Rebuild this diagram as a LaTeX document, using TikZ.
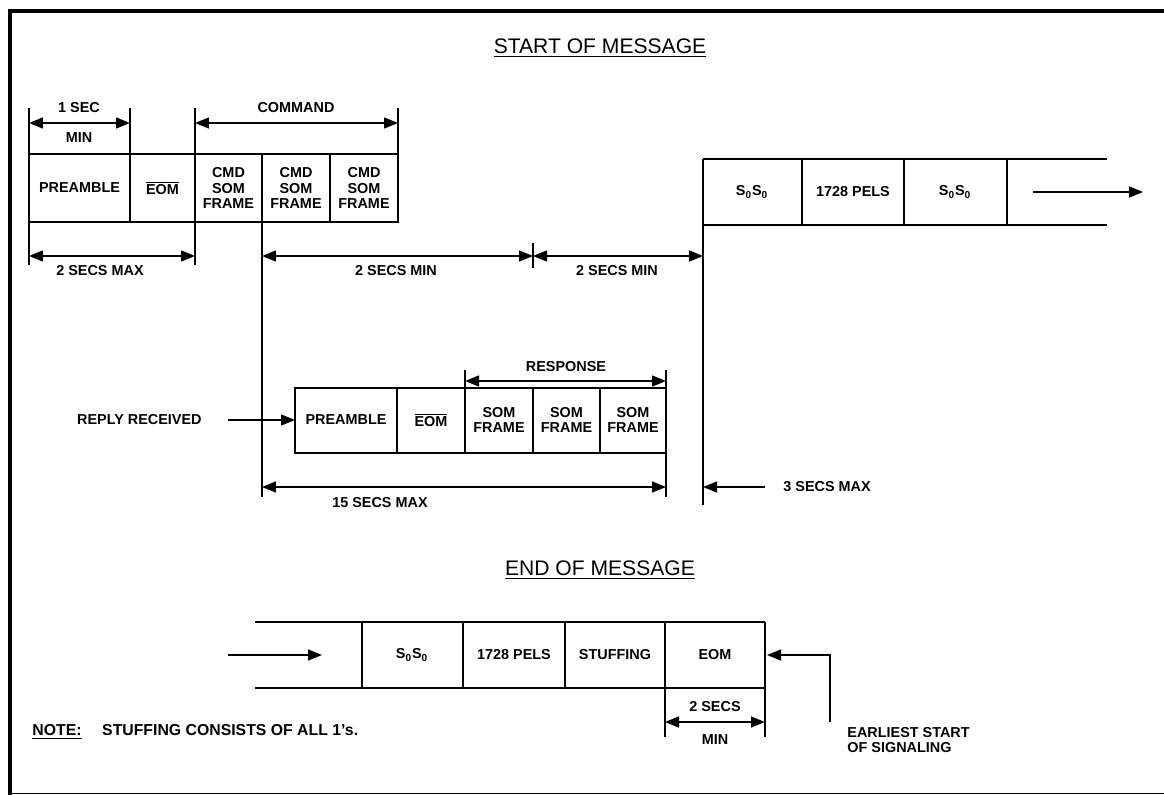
\documentclass[tikz,border=0pt]{standalone}
\usepackage{fontspec}
\setmainfont{Liberation Sans}
\usetikzlibrary{arrows.meta}
\begin{document}
\begin{tikzpicture}[
   x=0.02cm,y=-0.02cm,
   line width=0.8pt,
   lbl/.style={font=\bfseries\fontsize{8.2}{8.6}\selectfont,align=center,inner sep=1pt},
   ttl/.style={font=\fontsize{12}{14}\selectfont},
   tip/.style={-{Triangle[length=2.8mm,width=2.2mm]}},
   dim/.style={{Triangle[length=2.8mm,width=2.2mm]}-{Triangle[length=2.8mm,width=2.2mm]}},
   ext/.style={line width=0.6pt}
 ]
  \useasboundingbox (0,0) rectangle (1164,795);
  % frame
  \draw[line width=1.8pt] (10,795) -- (10,11) -- (1164,11);
  \draw[line width=0.5pt] (10,793) -- (1164,793);

  % start of message
  \node[ttl] (tsom) at (600,48) {\underline{START OF MESSAGE}};
  \foreach \a/\b/\t/\n in {29/130/PREAMBLE/pre,130/195/{$\overline{\hbox{EOM}}$}/eom,
      195/262/{CMD\\SOM\\FRAME}/cmda,262/330/{CMD\\SOM\\FRAME}/cmdb,
      330/398/{CMD\\SOM\\FRAME}/cmdc} {
    \draw (\a,154) rectangle (\b,222);
    \node[lbl] (\n) at ({(\a+\b)/2},188) {\t};
  }
  \draw[ext] (29,108) -- (29,265) (130,108) -- (130,154)
             (195,108) -- (195,265) (398,108) -- (398,154);
  \coordinate (seca) at (29,123);
  \coordinate (secb) at (130,123);
  \draw[dim] (seca) -- (secb);
  \node[lbl] (sec) at (79,108) {1 SEC};
  \node[lbl] (secmin) at (79,138) {MIN};
  \coordinate (cmdl) at (195,123);
  \coordinate (cmdr) at (398,123);
  \draw[dim] (cmdl) -- (cmdr);
  \node[lbl] (cmdtxt) at (296,108) {COMMAND};

  % page start
  \draw (703,159) -- (1107,159) (703,225) -- (1107,225);
  \draw (703,159) -- (703,505);
  \foreach \x in {802,904,1007} \draw (\x,159) -- (\x,225);
  \node[lbl] (ssa) at (752,192) {S\textsubscript{0}S\textsubscript{0}};
  \node[lbl] (pels) at (853,192) {1728 PELS};
  \node[lbl] (ssb) at (955,192) {S\textsubscript{0}S\textsubscript{0}};
  \coordinate (gol) at (1033,192);
  \coordinate (gor) at (1143,192);
  \draw[tip] (gol) -- (gor);

  % timing
  \draw[ext] (262,222) -- (262,497) (533,243) -- (533,268);
  \coordinate (mxa) at (29,256);
  \coordinate (mxb) at (195,256);
  \coordinate (mna) at (262,256);
  \coordinate (mnb) at (533,256);
  \coordinate (mnc) at (703,256);
  \draw[dim] (mxa) -- (mxb);
  \draw[dim] (mna) -- (mnb);
  \draw[dim] (mnb) -- (mnc);
  \node[lbl] (max2) at (100,271) {2 SECS MAX};
  \node[lbl] (min2a) at (396,271) {2 SECS MIN};
  \node[lbl] (min2b) at (617,271) {2 SECS MIN};

  % reply
  \foreach \a/\b/\t/\n in {295/397/PREAMBLE/rpre,397/465/{$\overline{\hbox{EOM}}$}/reom,
      465/533/{SOM\\FRAME}/rsa,533/600/{SOM\\FRAME}/rsb,600/666/{SOM\\FRAME}/rsc} {
    \draw (\a,388) rectangle (\b,453);
    \node[lbl] (\n) at ({(\a+\b)/2},420) {\t};
  }
  \draw[ext] (465,370) -- (465,388) (666,370) -- (666,497);
  \coordinate (rsl) at (465,381);
  \coordinate (rsr) at (666,381);
  \draw[dim] (rsl) -- (rsr);
  \node[lbl] (resp) at (566,367) {RESPONSE};
  \node[lbl,anchor=east] (reply) at (204,420) {REPLY RECEIVED};
  \coordinate (rpl) at (228,420);
  \coordinate (rpr) at (295,420);
  \draw[tip] (rpl) -- (rpr);
  \coordinate (fma) at (262,487);
  \coordinate (fmb) at (666,487);
  \draw[dim] (fma) -- (fmb);
  \node[lbl] (max15) at (380,503) {15 SECS MAX};
  \coordinate (tma) at (765,487);
  \coordinate (tmb) at (703,487);
  \draw[tip] (tma) -- (tmb);
  \node[lbl,anchor=west] (max3) at (781,487) {3 SECS MAX};

  % end of message
  \node[ttl] (teom) at (600,570) {\underline{END OF MESSAGE}};
  \draw (255,622) -- (765,622) (255,688) -- (765,688);
  \foreach \x in {362,463,565,665,765} \draw (\x,622) -- (\x,688);
  \node[lbl] (ssc) at (412,655) {S\textsubscript{0}S\textsubscript{0}};
  \node[lbl] (pelsb) at (514,655) {1728 PELS};
  \node[lbl] (stuff) at (615,655) {STUFFING};
  \node[lbl] (eomb) at (715,655) {EOM};
  \coordinate (inl) at (228,655);
  \coordinate (inr) at (322,655);
  \draw[tip] (inl) -- (inr);
  \coordinate (sig) at (830,722);
  \coordinate (sigb) at (830,655);
  \coordinate (sigc) at (767,655);
  \draw[tip] (sig) -- (sigb) -- (sigc);
  \draw[ext] (665,688) -- (665,737) (765,688) -- (765,737);
  \coordinate (ea) at (665,722);
  \coordinate (eb) at (765,722);
  \draw[dim] (ea) -- (eb);
  \node[lbl] (sec2) at (715,707) {2 SECS};
  \node[lbl] (sec2min) at (715,740) {MIN};
  \node[lbl,anchor=north west,align=left] (early) at (845,725) {EARLIEST START\\OF SIGNALING};
  \node[lbl,anchor=west,font=\bfseries\fontsize{9}{10}\selectfont] (note) at (30,732)
    {\underline{NOTE:}\hspace{1.3em}STUFFING CONSISTS OF ALL 1's.};
\end{tikzpicture}
\end{document}
